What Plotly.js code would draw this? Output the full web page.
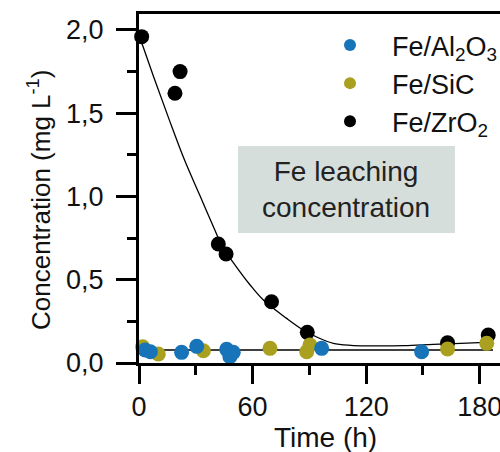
<!DOCTYPE html>
<html>
<head>
<meta charset="utf-8">
<script src="https://cdn.plot.ly/plotly-3.0.1.min.js"></script>
<style>
html,body{margin:0;padding:0;overflow:hidden;background:#fff;width:500px;height:452px;}
#chart{width:540px;height:452px;}
</style>
</head>
<body>
<div id="chart"></div>
<script>
// Data
const zrTime = [1.4, 19, 21.7, 41.9, 46, 70, 88.9, 163, 184.5];
const zrConc = [1.96, 1.62, 1.75, 0.715, 0.655, 0.368, 0.184, 0.122, 0.168];

const sicTime = [1.9, 10.2, 34, 69.2, 88.6, 90.3, 163, 183.7];
const sicConc = [0.098, 0.054, 0.074, 0.088, 0.068, 0.108, 0.084, 0.118];

const alTime = [3.2, 6, 22.5, 30.5, 46.3, 48, 49.8, 96.5, 149.3];
const alConc = [0.078, 0.068, 0.064, 0.100, 0.082, 0.038, 0.064, 0.088, 0.068];

// Fitted curves
const fitZrTime = [0, 8, 16, 24, 32, 40, 44, 50, 58.6, 65.7, 78, 86.8, 95, 102.6, 112, 120, 140, 155.5, 170, 186];
const fitZrConc = [1.97, 1.71, 1.46, 1.22, 1.01, 0.80, 0.70, 0.60, 0.47, 0.378, 0.268, 0.198, 0.15, 0.118, 0.106, 0.103, 0.104, 0.112, 0.118, 0.125];
const fitLowTime = [0, 187];
const fitLowConc = [0.078, 0.078];

const names = ['Fe/Al<sub>2</sub>O<sub>3</sub>', 'Fe/SiC', 'Fe/ZrO<sub>2</sub>'];
const colors = ['#1774b8', '#aaa020', '#000000'];
const xTickVals = [0, 60, 120, 180];
const xMinorVals = [30, 90, 150];
const yTickVals = [0, 0.5, 1, 1.5, 2];
const yTickText = ['0,0', '0,5', '1,0', '1,5', '2,0'];
const yMinorVals = [0.25, 0.75, 1.25, 1.75];
const boxText = 'Fe leaching<br>concentration';
const xTitle = 'Time (h)';
const yTitle = 'Concentration (mg L<sup>-1</sup>)';

const W = 540, L = 139, T = 14, B = 89, H = 452;
const PW = W - L, PH = H - T - B;
const xMax = PW / 1.893;

const traces = [
  {x: fitZrTime, y: fitZrConc, mode: 'lines', line: {color: '#000', width: 1.3, shape: 'spline'}, showlegend: false, hoverinfo: 'skip'},
  {x: fitLowTime, y: fitLowConc, mode: 'lines', line: {color: '#000', width: 1.3}, showlegend: false, hoverinfo: 'skip'},
  {x: zrTime, y: zrConc, mode: 'markers', name: names[2], legendrank: 3, marker: {color: colors[2], size: 15}, cliponaxis: false},
  {x: sicTime, y: sicConc, mode: 'markers', name: names[1], legendrank: 2, marker: {color: colors[1], size: 15}, cliponaxis: false},
  {x: alTime, y: alConc, mode: 'markers', name: names[0], legendrank: 1, marker: {color: colors[0], size: 15}, cliponaxis: false}
];

const layout = {
  width: W, height: H,
  margin: {l: L, r: 0, t: T, b: B},
  paper_bgcolor: '#fff', plot_bgcolor: '#fff',
  font: {family: 'Liberation Sans, Arial, sans-serif', color: '#111'},
  showlegend: true,
  legend: {x: (308 - L) / PW, y: 0.98, xanchor: 'left', yanchor: 'top',
           font: {size: 27, color: '#111'}, bgcolor: 'rgba(0,0,0,0)',
           itemsizing: 'constant', itemwidth: 74, tracegroupgap: 0},
  xaxis: {
    range: [0, xMax], showgrid: false, zeroline: false,
    showline: true, linecolor: '#000', linewidth: 3, mirror: true,
    ticks: 'outside', ticklen: 18, tickwidth: 3, tickcolor: '#000',
    tickmode: 'array', tickvals: xTickVals,
    tickfont: {size: 27, color: '#111'},
    minor: {tickvals: xMinorVals, ticklen: 9, tickwidth: 3, tickcolor: '#000', ticks: 'outside', showgrid: false}
  },
  yaxis: {
    range: [0, 2.096], showgrid: false, zeroline: false,
    showline: true, linecolor: '#000', linewidth: 3, mirror: true,
    ticks: 'outside', ticklen: 20, tickwidth: 3, tickcolor: '#000',
    tickmode: 'array', tickvals: yTickVals, ticktext: yTickText,
    tickfont: {size: 27, color: '#111'}, ticklabelstandoff: 7,
    minor: {tickvals: yMinorVals, ticklen: 9, tickwidth: 3, tickcolor: '#000', ticks: 'outside', showgrid: false}
  },
  shapes: [{type: 'rect', xref: 'x', yref: 'y', x0: 52.3, x1: 166.9, y0: 0.781, y1: 1.303,
            fillcolor: '#d5dedb', line: {width: 0}, layer: 'below'}],
  annotations: [
    {xref: 'x', yref: 'y', x: 109.6, y: 1.042, text: boxText, showarrow: false,
     font: {size: 28, color: '#222'}, align: 'center'},
    {xref: 'paper', yref: 'paper', x: (325 - L) / PW, y: (H - B - 437) / PH, text: xTitle, showarrow: false,
     xanchor: 'center', yanchor: 'middle', font: {size: 28, color: '#111'}},
    {xref: 'paper', yref: 'paper', x: (39 - L) / PW, y: (H - B - 200) / PH, text: yTitle, showarrow: false,
     textangle: -90, xanchor: 'center', yanchor: 'middle', font: {size: 26, color: '#111'}}
  ]
};

Plotly.newPlot('chart', traces, layout, {displayModeBar: false, staticPlot: true});
</script>
</body>
</html>
